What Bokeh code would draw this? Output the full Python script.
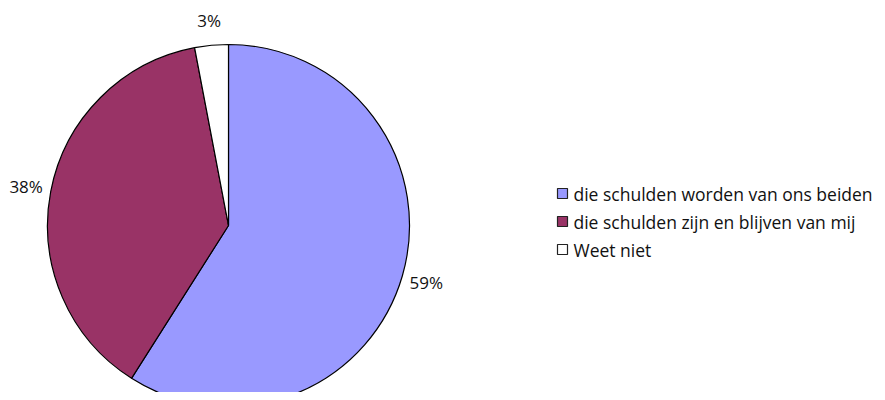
import numpy as np
from bokeh.plotting import figure
from bokeh.models import Range1d, ColumnDataSource
from bokeh.core.properties import value
from bokeh.embed import file_html
from bokeh.resources import INLINE

categories = ["die schulden worden van ons beiden",
              "die schulden zijn en blijven van mij",
              "Weet niet"]
values = [59, 38, 3]
colors = ["#9999FF", "#993366", "#FFFFFF"]
labels = ["59%", "38%", "3%"]

W, H = 877, 392
p = figure(width=W, height=H, output_backend="svg", toolbar_location=None,
           x_range=Range1d(0, W), y_range=Range1d(0, H), min_border=0)
p.axis.visible = False
p.grid.visible = False
p.outline_line_color = None
p.background_fill_color = "white"

cx, cy, r = 228, 167, 181
vals = np.array(values, dtype=float)
frac = vals / vals.sum()
ends = np.pi / 2 - 2 * np.pi * np.concatenate([[0], np.cumsum(frac)[:-1]])
starts = ends - 2 * np.pi * frac
mids = (starts + ends) / 2

src = ColumnDataSource(dict(start=starts, end=ends, color=colors))
p.wedge(x=cx, y=cy, radius=r, start_angle="start", end_angle="end",
        fill_color="color", line_color="black", line_width=1.2, source=src)

lr = 206
p.text(x=cx + lr * np.cos(mids), y=cy + lr * np.sin(mids), text=labels,
       text_font=value("Open Sans"), text_font_size="17px", text_color="#111111",
       text_align="center", text_baseline="middle")

# legend
lx, ly0, dy = 562, 199, 28
ys = [ly0 - i * dy for i in range(len(categories))]
p.rect(x=[lx] * len(categories), y=ys, width=10, height=10, fill_color=colors,
       line_color="#222222", line_width=1.2)
p.text(x=[lx + 11] * len(categories), y=ys, text=categories,
       text_font=value("Open Sans"), text_font_size="17.5px", text_color="#111111",
       text_align="left", text_baseline="middle")

open("out.html", "w").write(file_html(p, INLINE))
